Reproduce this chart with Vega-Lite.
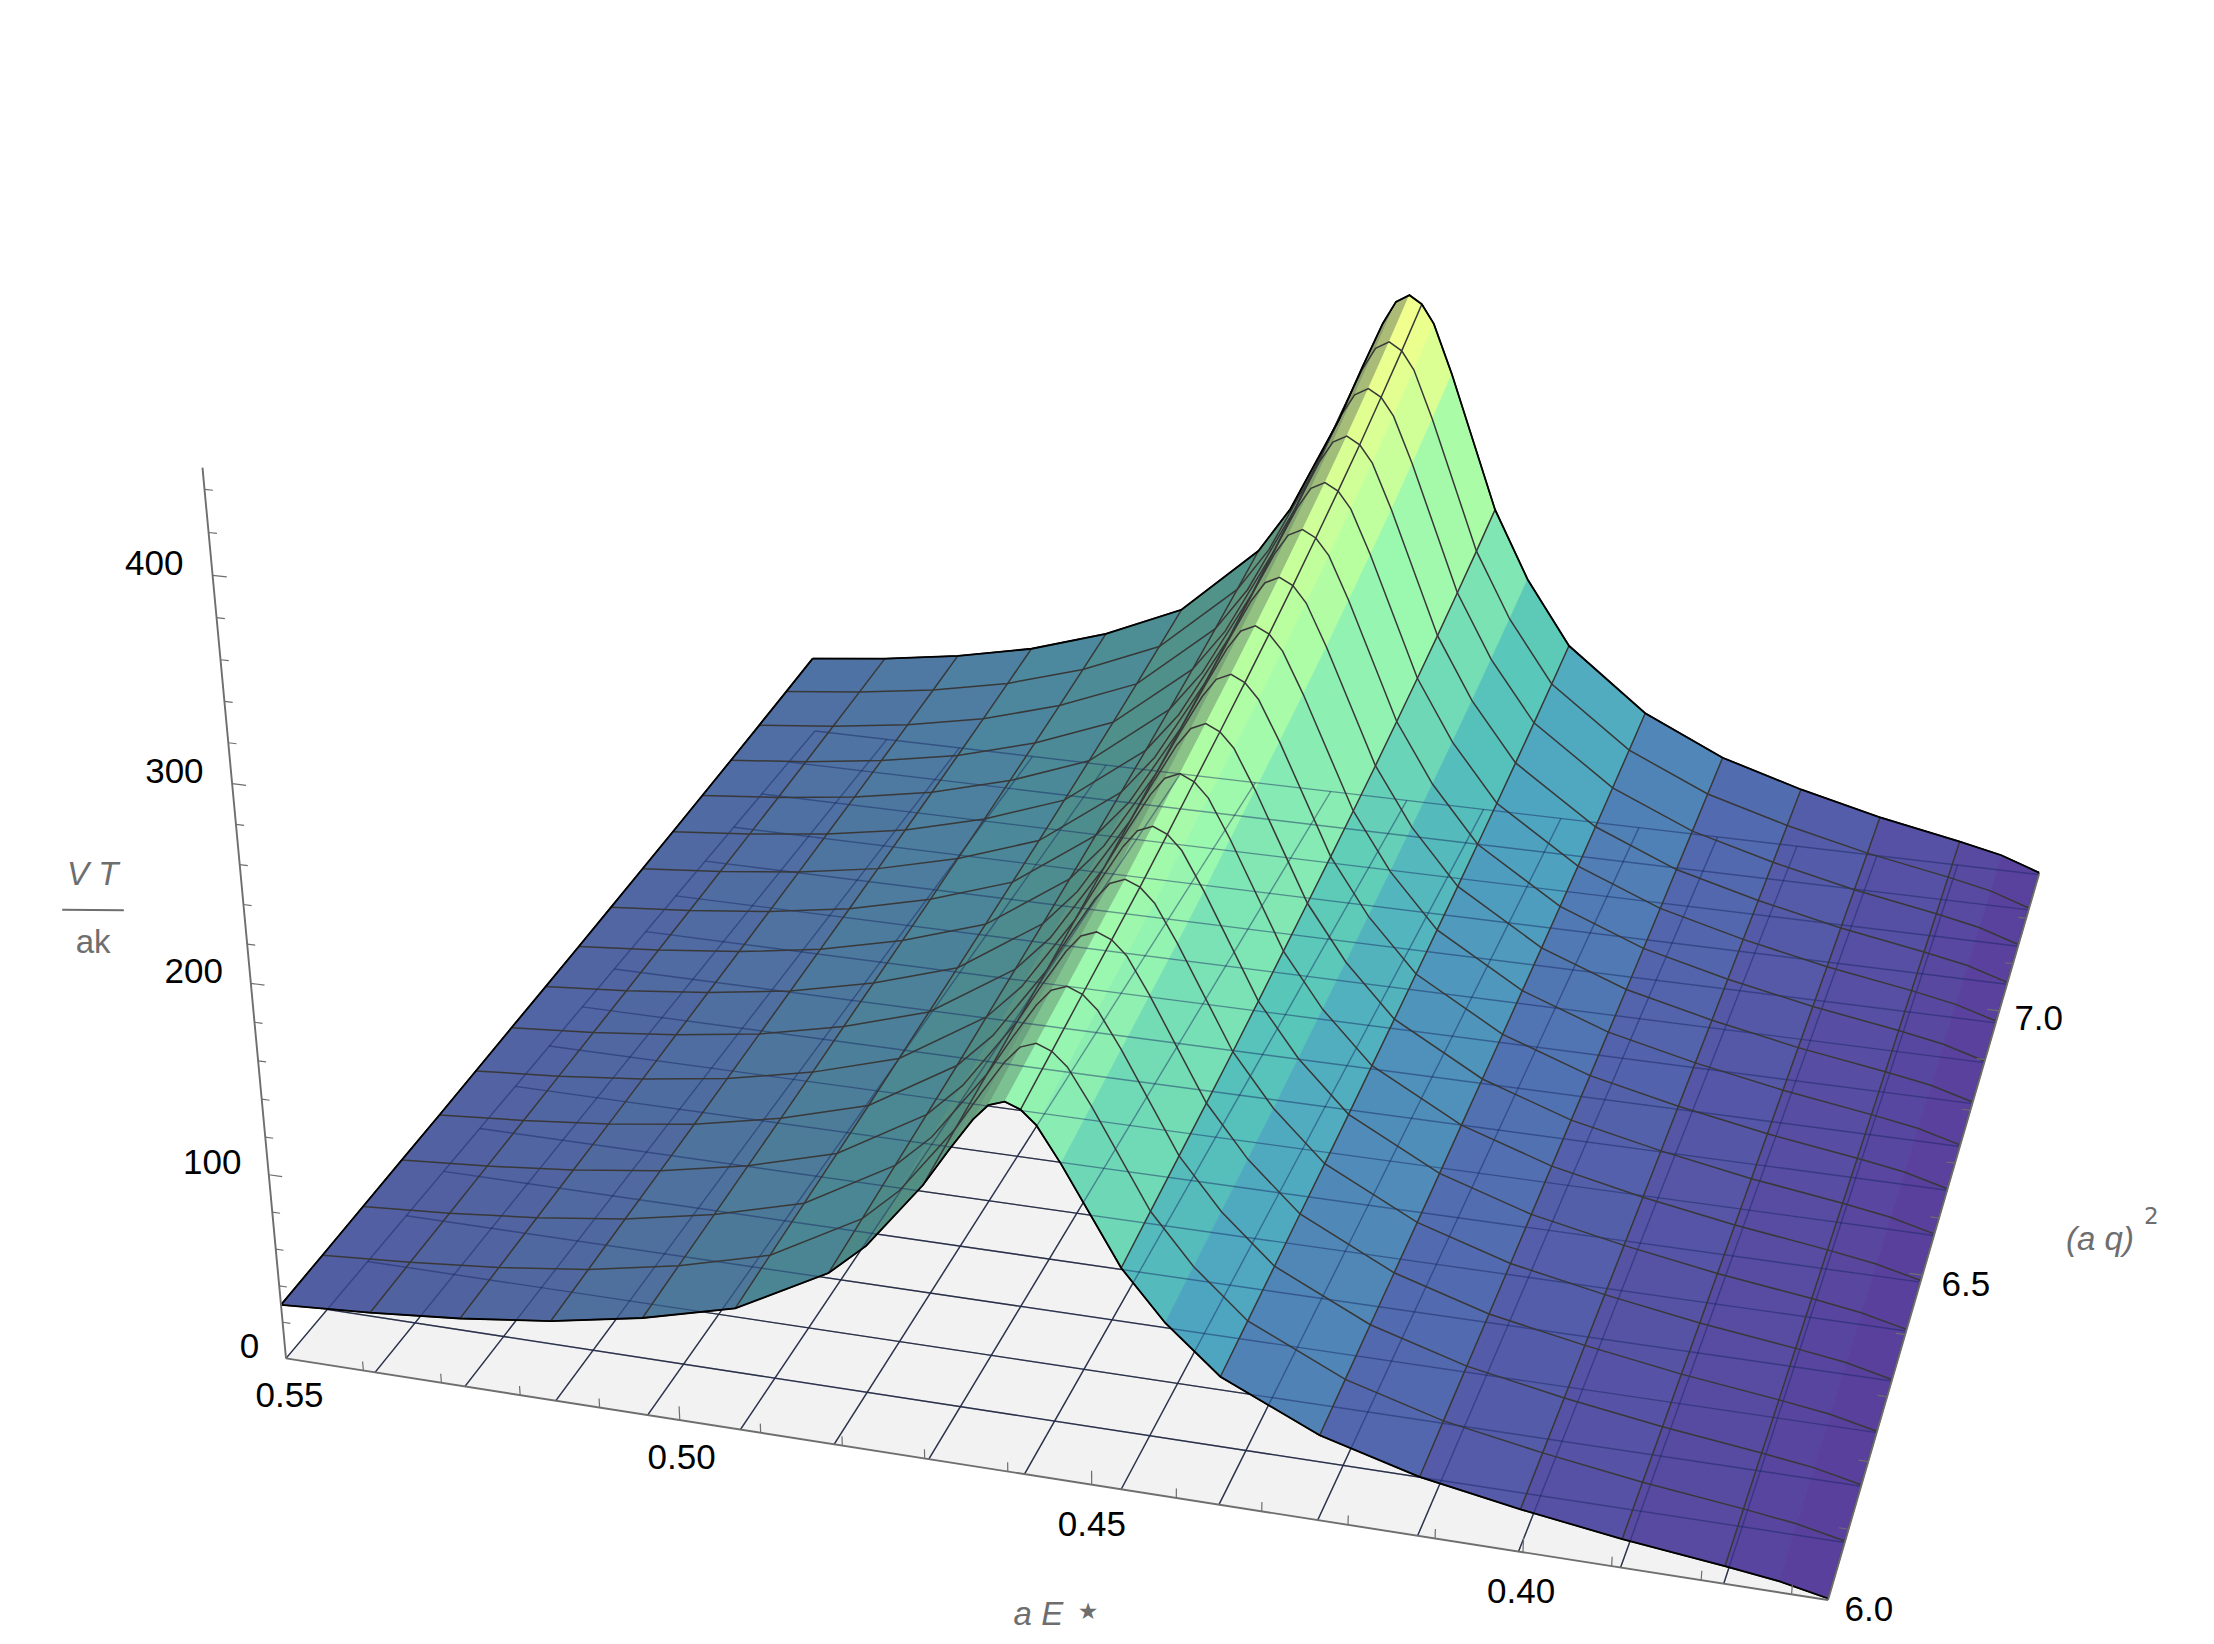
{"$schema":"https://vega.github.io/schema/vega-lite/v6.json","width":2214,"height":1644,"padding":0,"autosize":{"type":"fit","contains":"padding"},"background":"white","view":{"stroke":null},
"datasets":{
"surface":[
{"q":7.3,"E":0.55,"V":47.5},{"q":7.3,"E":0.5385,"V":52.8},{"q":7.3,"E":0.527,"V":59.9},{"q":7.3,"E":0.5155,"V":69.8},{"q":7.3,"E":0.504,"V":84.6},{"q":7.3,"E":0.4925,"V":105},{"q":7.3,"E":0.481,"V":146.9},{"q":7.3,"E":0.4764,"V":174.4},{"q":7.3,"E":0.4695,"V":231.5},{"q":7.3,"E":0.4663,"V":263.9},{"q":7.3,"E":0.4635,"V":290.8},{"q":7.3,"E":0.4617,"V":304.1},{"q":7.3,"E":0.4598,"V":308.7},{"q":7.3,"E":0.458,"V":304.1},{"q":7.3,"E":0.4562,"V":293.3},{"q":7.3,"E":0.4534,"V":264.9},{"q":7.3,"E":0.4465,"V":186.8},{"q":7.3,"E":0.4414,"V":146.6},{"q":7.3,"E":0.435,"V":108.7},{"q":7.3,"E":0.4235,"V":72.2},{"q":7.3,"E":0.412,"V":50},{"q":7.3,"E":0.4005,"V":35.8},{"q":7.3,"E":0.389,"V":24.1},{"q":7.3,"E":0.3775,"V":14.8},{"q":7.3,"E":0.3715,"V":9.3},{"q":7.3,"E":0.366,"V":1.2},
{"q":7.219,"E":0.55,"V":45.8},{"q":7.219,"E":0.5385,"V":50.9},{"q":7.219,"E":0.527,"V":57.7},{"q":7.219,"E":0.5155,"V":67.3},{"q":7.219,"E":0.504,"V":81.5},{"q":7.219,"E":0.4925,"V":101.2},{"q":7.219,"E":0.481,"V":141.7},{"q":7.219,"E":0.4764,"V":168.1},{"q":7.219,"E":0.4695,"V":223.2},{"q":7.219,"E":0.4663,"V":254.4},{"q":7.219,"E":0.4635,"V":280.3},{"q":7.219,"E":0.4617,"V":293.1},{"q":7.219,"E":0.4598,"V":297.6},{"q":7.219,"E":0.458,"V":293.1},{"q":7.219,"E":0.4562,"V":282.7},{"q":7.219,"E":0.4534,"V":255.3},{"q":7.219,"E":0.4465,"V":180},{"q":7.219,"E":0.4414,"V":141.4},{"q":7.219,"E":0.435,"V":104.8},{"q":7.219,"E":0.4235,"V":69.6},{"q":7.219,"E":0.412,"V":48.2},{"q":7.219,"E":0.4005,"V":34.5},{"q":7.219,"E":0.389,"V":23.2},{"q":7.219,"E":0.3775,"V":14.3},{"q":7.219,"E":0.3715,"V":8.9},{"q":7.219,"E":0.366,"V":1.2},
{"q":7.138,"E":0.55,"V":44.2},{"q":7.138,"E":0.5385,"V":49.1},{"q":7.138,"E":0.527,"V":55.7},{"q":7.138,"E":0.5155,"V":64.9},{"q":7.138,"E":0.504,"V":78.7},{"q":7.138,"E":0.4925,"V":97.6},{"q":7.138,"E":0.481,"V":136.7},{"q":7.138,"E":0.4764,"V":162.3},{"q":7.138,"E":0.4695,"V":215.4},{"q":7.138,"E":0.4663,"V":245.6},{"q":7.138,"E":0.4635,"V":270.5},{"q":7.138,"E":0.4617,"V":282.9},{"q":7.138,"E":0.4598,"V":287.2},{"q":7.138,"E":0.458,"V":282.9},{"q":7.138,"E":0.4562,"V":272.8},{"q":7.138,"E":0.4534,"V":246.4},{"q":7.138,"E":0.4465,"V":173.8},{"q":7.138,"E":0.4414,"V":136.4},{"q":7.138,"E":0.435,"V":101.1},{"q":7.138,"E":0.4235,"V":67.2},{"q":7.138,"E":0.412,"V":46.5},{"q":7.138,"E":0.4005,"V":33.3},{"q":7.138,"E":0.389,"V":22.4},{"q":7.138,"E":0.3775,"V":13.8},{"q":7.138,"E":0.3715,"V":8.6},{"q":7.138,"E":0.366,"V":1.1},
{"q":7.056,"E":0.55,"V":42.7},{"q":7.056,"E":0.5385,"V":47.4},{"q":7.056,"E":0.527,"V":53.8},{"q":7.056,"E":0.5155,"V":62.6},{"q":7.056,"E":0.504,"V":76},{"q":7.056,"E":0.4925,"V":94.2},{"q":7.056,"E":0.481,"V":131.9},{"q":7.056,"E":0.4764,"V":156.6},{"q":7.056,"E":0.4695,"V":207.9},{"q":7.056,"E":0.4663,"V":237},{"q":7.056,"E":0.4635,"V":261.1},{"q":7.056,"E":0.4617,"V":273},{"q":7.056,"E":0.4598,"V":277.2},{"q":7.056,"E":0.458,"V":273},{"q":7.056,"E":0.4562,"V":263.3},{"q":7.056,"E":0.4534,"V":237.8},{"q":7.056,"E":0.4465,"V":167.7},{"q":7.056,"E":0.4414,"V":131.7},{"q":7.056,"E":0.435,"V":97.6},{"q":7.056,"E":0.4235,"V":64.9},{"q":7.056,"E":0.412,"V":44.9},{"q":7.056,"E":0.4005,"V":32.2},{"q":7.056,"E":0.389,"V":21.6},{"q":7.056,"E":0.3775,"V":13.3},{"q":7.056,"E":0.3715,"V":8.3},{"q":7.056,"E":0.366,"V":1.1},
{"q":6.975,"E":0.55,"V":41.3},{"q":6.975,"E":0.5385,"V":45.9},{"q":6.975,"E":0.527,"V":52},{"q":6.975,"E":0.5155,"V":60.6},{"q":6.975,"E":0.504,"V":73.5},{"q":6.975,"E":0.4925,"V":91.2},{"q":6.975,"E":0.481,"V":127.7},{"q":6.975,"E":0.4764,"V":151.6},{"q":6.975,"E":0.4695,"V":201.2},{"q":6.975,"E":0.4663,"V":229.4},{"q":6.975,"E":0.4635,"V":252.7},{"q":6.975,"E":0.4617,"V":264.3},{"q":6.975,"E":0.4598,"V":268.3},{"q":6.975,"E":0.458,"V":264.3},{"q":6.975,"E":0.4562,"V":254.9},{"q":6.975,"E":0.4534,"V":230.2},{"q":6.975,"E":0.4465,"V":162.3},{"q":6.975,"E":0.4414,"V":127.4},{"q":6.975,"E":0.435,"V":94.4},{"q":6.975,"E":0.4235,"V":62.8},{"q":6.975,"E":0.412,"V":43.5},{"q":6.975,"E":0.4005,"V":31.1},{"q":6.975,"E":0.389,"V":20.9},{"q":6.975,"E":0.3775,"V":12.9},{"q":6.975,"E":0.3715,"V":8},{"q":6.975,"E":0.366,"V":1.1},
{"q":6.894,"E":0.55,"V":40},{"q":6.894,"E":0.5385,"V":44.4},{"q":6.894,"E":0.527,"V":50.4},{"q":6.894,"E":0.5155,"V":58.7},{"q":6.894,"E":0.504,"V":71.2},{"q":6.894,"E":0.4925,"V":88.4},{"q":6.894,"E":0.481,"V":123.7},{"q":6.894,"E":0.4764,"V":146.8},{"q":6.894,"E":0.4695,"V":194.9},{"q":6.894,"E":0.4663,"V":222.2},{"q":6.894,"E":0.4635,"V":244.8},{"q":6.894,"E":0.4617,"V":256},{"q":6.894,"E":0.4598,"V":259.9},{"q":6.894,"E":0.458,"V":256},{"q":6.894,"E":0.4562,"V":246.9},{"q":6.894,"E":0.4534,"V":223},{"q":6.894,"E":0.4465,"V":157.2},{"q":6.894,"E":0.4414,"V":123.5},{"q":6.894,"E":0.435,"V":91.5},{"q":6.894,"E":0.4235,"V":60.8},{"q":6.894,"E":0.412,"V":42.1},{"q":6.894,"E":0.4005,"V":30.1},{"q":6.894,"E":0.389,"V":20.3},{"q":6.894,"E":0.3775,"V":12.5},{"q":6.894,"E":0.3715,"V":7.8},{"q":6.894,"E":0.366,"V":1},
{"q":6.813,"E":0.55,"V":38.8},{"q":6.813,"E":0.5385,"V":43.1},{"q":6.813,"E":0.527,"V":48.8},{"q":6.813,"E":0.5155,"V":56.9},{"q":6.813,"E":0.504,"V":69},{"q":6.813,"E":0.4925,"V":85.6},{"q":6.813,"E":0.481,"V":119.9},{"q":6.813,"E":0.4764,"V":142.3},{"q":6.813,"E":0.4695,"V":188.9},{"q":6.813,"E":0.4663,"V":215.3},{"q":6.813,"E":0.4635,"V":237.2},{"q":6.813,"E":0.4617,"V":248},{"q":6.813,"E":0.4598,"V":251.8},{"q":6.813,"E":0.458,"V":248},{"q":6.813,"E":0.4562,"V":239.2},{"q":6.813,"E":0.4534,"V":216},{"q":6.813,"E":0.4465,"V":152.3},{"q":6.813,"E":0.4414,"V":119.6},{"q":6.813,"E":0.435,"V":88.6},{"q":6.813,"E":0.4235,"V":58.9},{"q":6.813,"E":0.412,"V":40.8},{"q":6.813,"E":0.4005,"V":29.2},{"q":6.813,"E":0.389,"V":19.6},{"q":6.813,"E":0.3775,"V":12.1},{"q":6.813,"E":0.3715,"V":7.6},{"q":6.813,"E":0.366,"V":1},
{"q":6.731,"E":0.55,"V":37.6},{"q":6.731,"E":0.5385,"V":41.8},{"q":6.731,"E":0.527,"V":47.4},{"q":6.731,"E":0.5155,"V":55.2},{"q":6.731,"E":0.504,"V":66.9},{"q":6.731,"E":0.4925,"V":83.1},{"q":6.731,"E":0.481,"V":116.3},{"q":6.731,"E":0.4764,"V":138},{"q":6.731,"E":0.4695,"V":183.2},{"q":6.731,"E":0.4663,"V":208.9},{"q":6.731,"E":0.4635,"V":230.1},{"q":6.731,"E":0.4617,"V":240.6},{"q":6.731,"E":0.4598,"V":244.3},{"q":6.731,"E":0.458,"V":240.6},{"q":6.731,"E":0.4562,"V":232.1},{"q":6.731,"E":0.4534,"V":209.6},{"q":6.731,"E":0.4465,"V":147.8},{"q":6.731,"E":0.4414,"V":116},{"q":6.731,"E":0.435,"V":86},{"q":6.731,"E":0.4235,"V":57.2},{"q":6.731,"E":0.412,"V":39.6},{"q":6.731,"E":0.4005,"V":28.3},{"q":6.731,"E":0.389,"V":19.1},{"q":6.731,"E":0.3775,"V":11.7},{"q":6.731,"E":0.3715,"V":7.3},{"q":6.731,"E":0.366,"V":1},
{"q":6.65,"E":0.55,"V":36.5},{"q":6.65,"E":0.5385,"V":40.6},{"q":6.65,"E":0.527,"V":46},{"q":6.65,"E":0.5155,"V":53.6},{"q":6.65,"E":0.504,"V":65},{"q":6.65,"E":0.4925,"V":80.7},{"q":6.65,"E":0.481,"V":113},{"q":6.65,"E":0.4764,"V":134.1},{"q":6.65,"E":0.4695,"V":178},{"q":6.65,"E":0.4663,"V":202.9},{"q":6.65,"E":0.4635,"V":223.5},{"q":6.65,"E":0.4617,"V":233.7},{"q":6.65,"E":0.4598,"V":237.3},{"q":6.65,"E":0.458,"V":233.7},{"q":6.65,"E":0.4562,"V":225.4},{"q":6.65,"E":0.4534,"V":203.6},{"q":6.65,"E":0.4465,"V":143.6},{"q":6.65,"E":0.4414,"V":112.7},{"q":6.65,"E":0.435,"V":83.5},{"q":6.65,"E":0.4235,"V":55.5},{"q":6.65,"E":0.412,"V":38.4},{"q":6.65,"E":0.4005,"V":27.5},{"q":6.65,"E":0.389,"V":18.5},{"q":6.65,"E":0.3775,"V":11.4},{"q":6.65,"E":0.3715,"V":7.1},{"q":6.65,"E":0.366,"V":0.9},
{"q":6.569,"E":0.55,"V":35.5},{"q":6.569,"E":0.5385,"V":39.4},{"q":6.569,"E":0.527,"V":44.8},{"q":6.569,"E":0.5155,"V":52.1},{"q":6.569,"E":0.504,"V":63.2},{"q":6.569,"E":0.4925,"V":78.4},{"q":6.569,"E":0.481,"V":109.8},{"q":6.569,"E":0.4764,"V":130.3},{"q":6.569,"E":0.4695,"V":173},{"q":6.569,"E":0.4663,"V":197.2},{"q":6.569,"E":0.4635,"V":217.3},{"q":6.569,"E":0.4617,"V":227.2},{"q":6.569,"E":0.4598,"V":230.7},{"q":6.569,"E":0.458,"V":227.2},{"q":6.569,"E":0.4562,"V":219.2},{"q":6.569,"E":0.4534,"V":197.9},{"q":6.569,"E":0.4465,"V":139.6},{"q":6.569,"E":0.4414,"V":109.6},{"q":6.569,"E":0.435,"V":81.2},{"q":6.569,"E":0.4235,"V":54},{"q":6.569,"E":0.412,"V":37.4},{"q":6.569,"E":0.4005,"V":26.8},{"q":6.569,"E":0.389,"V":18},{"q":6.569,"E":0.3775,"V":11.1},{"q":6.569,"E":0.3715,"V":6.9},{"q":6.569,"E":0.366,"V":0.9},
{"q":6.488,"E":0.55,"V":34.6},{"q":6.488,"E":0.5385,"V":38.4},{"q":6.488,"E":0.527,"V":43.6},{"q":6.488,"E":0.5155,"V":50.7},{"q":6.488,"E":0.504,"V":61.5},{"q":6.488,"E":0.4925,"V":76.3},{"q":6.488,"E":0.481,"V":106.9},{"q":6.488,"E":0.4764,"V":126.8},{"q":6.488,"E":0.4695,"V":168.4},{"q":6.488,"E":0.4663,"V":191.9},{"q":6.488,"E":0.4635,"V":211.5},{"q":6.488,"E":0.4617,"V":221.1},{"q":6.488,"E":0.4598,"V":224.5},{"q":6.488,"E":0.458,"V":221.1},{"q":6.488,"E":0.4562,"V":213.3},{"q":6.488,"E":0.4534,"V":192.6},{"q":6.488,"E":0.4465,"V":135.8},{"q":6.488,"E":0.4414,"V":106.6},{"q":6.488,"E":0.435,"V":79},{"q":6.488,"E":0.4235,"V":52.5},{"q":6.488,"E":0.412,"V":36.4},{"q":6.488,"E":0.4005,"V":26},{"q":6.488,"E":0.389,"V":17.5},{"q":6.488,"E":0.3775,"V":10.8},{"q":6.488,"E":0.3715,"V":6.7},{"q":6.488,"E":0.366,"V":0.9},
{"q":6.406,"E":0.55,"V":33.6},{"q":6.406,"E":0.5385,"V":37.3},{"q":6.406,"E":0.527,"V":42.3},{"q":6.406,"E":0.5155,"V":49.3},{"q":6.406,"E":0.504,"V":59.7},{"q":6.406,"E":0.4925,"V":74.1},{"q":6.406,"E":0.481,"V":103.8},{"q":6.406,"E":0.4764,"V":123.2},{"q":6.406,"E":0.4695,"V":163.5},{"q":6.406,"E":0.4663,"V":186.4},{"q":6.406,"E":0.4635,"V":205.4},{"q":6.406,"E":0.4617,"V":214.7},{"q":6.406,"E":0.4598,"V":218},{"q":6.406,"E":0.458,"V":214.7},{"q":6.406,"E":0.4562,"V":207.1},{"q":6.406,"E":0.4534,"V":187},{"q":6.406,"E":0.4465,"V":131.9},{"q":6.406,"E":0.4414,"V":103.6},{"q":6.406,"E":0.435,"V":76.7},{"q":6.406,"E":0.4235,"V":51},{"q":6.406,"E":0.412,"V":35.3},{"q":6.406,"E":0.4005,"V":25.3},{"q":6.406,"E":0.389,"V":17},{"q":6.406,"E":0.3775,"V":10.5},{"q":6.406,"E":0.3715,"V":6.5},{"q":6.406,"E":0.366,"V":0.9},
{"q":6.325,"E":0.55,"V":32.6},{"q":6.325,"E":0.5385,"V":36.3},{"q":6.325,"E":0.527,"V":41.1},{"q":6.325,"E":0.5155,"V":47.9},{"q":6.325,"E":0.504,"V":58.1},{"q":6.325,"E":0.4925,"V":72.1},{"q":6.325,"E":0.481,"V":100.9},{"q":6.325,"E":0.4764,"V":119.8},{"q":6.325,"E":0.4695,"V":159},{"q":6.325,"E":0.4663,"V":181.3},{"q":6.325,"E":0.4635,"V":199.7},{"q":6.325,"E":0.4617,"V":208.8},{"q":6.325,"E":0.4598,"V":212},{"q":6.325,"E":0.458,"V":208.8},{"q":6.325,"E":0.4562,"V":201.4},{"q":6.325,"E":0.4534,"V":181.9},{"q":6.325,"E":0.4465,"V":128.3},{"q":6.325,"E":0.4414,"V":100.7},{"q":6.325,"E":0.435,"V":74.6},{"q":6.325,"E":0.4235,"V":49.6},{"q":6.325,"E":0.412,"V":34.3},{"q":6.325,"E":0.4005,"V":24.6},{"q":6.325,"E":0.389,"V":16.5},{"q":6.325,"E":0.3775,"V":10.2},{"q":6.325,"E":0.3715,"V":6.4},{"q":6.325,"E":0.366,"V":0.8},
{"q":6.244,"E":0.55,"V":31.9},{"q":6.244,"E":0.5385,"V":35.4},{"q":6.244,"E":0.527,"V":40.2},{"q":6.244,"E":0.5155,"V":46.8},{"q":6.244,"E":0.504,"V":56.7},{"q":6.244,"E":0.4925,"V":70.4},{"q":6.244,"E":0.481,"V":98.5},{"q":6.244,"E":0.4764,"V":117},{"q":6.244,"E":0.4695,"V":155.3},{"q":6.244,"E":0.4663,"V":177},{"q":6.244,"E":0.4635,"V":195},{"q":6.244,"E":0.4617,"V":203.9},{"q":6.244,"E":0.4598,"V":207},{"q":6.244,"E":0.458,"V":203.9},{"q":6.244,"E":0.4562,"V":196.7},{"q":6.244,"E":0.4534,"V":177.6},{"q":6.244,"E":0.4465,"V":125.2},{"q":6.244,"E":0.4414,"V":98.3},{"q":6.244,"E":0.435,"V":72.9},{"q":6.244,"E":0.4235,"V":48.4},{"q":6.244,"E":0.412,"V":33.5},{"q":6.244,"E":0.4005,"V":24},{"q":6.244,"E":0.389,"V":16.1},{"q":6.244,"E":0.3775,"V":9.9},{"q":6.244,"E":0.3715,"V":6.2},{"q":6.244,"E":0.366,"V":0.8},
{"q":6.163,"E":0.55,"V":31.1},{"q":6.163,"E":0.5385,"V":34.5},{"q":6.163,"E":0.527,"V":39.2},{"q":6.163,"E":0.5155,"V":45.7},{"q":6.163,"E":0.504,"V":55.3},{"q":6.163,"E":0.4925,"V":68.7},{"q":6.163,"E":0.481,"V":96.2},{"q":6.163,"E":0.4764,"V":114.1},{"q":6.163,"E":0.4695,"V":151.5},{"q":6.163,"E":0.4663,"V":172.7},{"q":6.163,"E":0.4635,"V":190.3},{"q":6.163,"E":0.4617,"V":199},{"q":6.163,"E":0.4598,"V":202},{"q":6.163,"E":0.458,"V":199},{"q":6.163,"E":0.4562,"V":191.9},{"q":6.163,"E":0.4534,"V":173.3},{"q":6.163,"E":0.4465,"V":122.2},{"q":6.163,"E":0.4414,"V":96},{"q":6.163,"E":0.435,"V":71.1},{"q":6.163,"E":0.4235,"V":47.3},{"q":6.163,"E":0.412,"V":32.7},{"q":6.163,"E":0.4005,"V":23.4},{"q":6.163,"E":0.389,"V":15.8},{"q":6.163,"E":0.3775,"V":9.7},{"q":6.163,"E":0.3715,"V":6.1},{"q":6.163,"E":0.366,"V":0.8},
{"q":6.081,"E":0.55,"V":30.3},{"q":6.081,"E":0.5385,"V":33.7},{"q":6.081,"E":0.527,"V":38.2},{"q":6.081,"E":0.5155,"V":44.5},{"q":6.081,"E":0.504,"V":54},{"q":6.081,"E":0.4925,"V":67},{"q":6.081,"E":0.481,"V":93.8},{"q":6.081,"E":0.4764,"V":111.3},{"q":6.081,"E":0.4695,"V":147.8},{"q":6.081,"E":0.4663,"V":168.4},{"q":6.081,"E":0.4635,"V":185.6},{"q":6.081,"E":0.4617,"V":194},{"q":6.081,"E":0.4598,"V":197},{"q":6.081,"E":0.458,"V":194},{"q":6.081,"E":0.4562,"V":187.2},{"q":6.081,"E":0.4534,"V":169},{"q":6.081,"E":0.4465,"V":119.2},{"q":6.081,"E":0.4414,"V":93.6},{"q":6.081,"E":0.435,"V":69.3},{"q":6.081,"E":0.4235,"V":46.1},{"q":6.081,"E":0.412,"V":31.9},{"q":6.081,"E":0.4005,"V":22.9},{"q":6.081,"E":0.389,"V":15.4},{"q":6.081,"E":0.3775,"V":9.5},{"q":6.081,"E":0.3715,"V":5.9},{"q":6.081,"E":0.366,"V":0.8},
{"q":6,"E":0.55,"V":29.6},{"q":6,"E":0.5385,"V":32.8},{"q":6,"E":0.527,"V":37.2},{"q":6,"E":0.5155,"V":43.4},{"q":6,"E":0.504,"V":52.6},{"q":6,"E":0.4925,"V":65.3},{"q":6,"E":0.481,"V":91.4},{"q":6,"E":0.4764,"V":108.5},{"q":6,"E":0.4695,"V":144},{"q":6,"E":0.4663,"V":164.2},{"q":6,"E":0.4635,"V":180.9},{"q":6,"E":0.4617,"V":189.1},{"q":6,"E":0.4598,"V":192},{"q":6,"E":0.458,"V":189.1},{"q":6,"E":0.4562,"V":182.4},{"q":6,"E":0.4534,"V":164.7},{"q":6,"E":0.4465,"V":116.2},{"q":6,"E":0.4414,"V":91.2},{"q":6,"E":0.435,"V":67.6},{"q":6,"E":0.4235,"V":44.9},{"q":6,"E":0.412,"V":31.1},{"q":6,"E":0.4005,"V":22.3},{"q":6,"E":0.389,"V":15},{"q":6,"E":0.3775,"V":9.2},{"q":6,"E":0.3715,"V":5.8},{"q":6,"E":0.366,"V":0.8}
],
"floor":[{"E":0.55,"q":6,"V":0,"o":0},{"E":0.366,"q":6,"V":0,"o":1},{"E":0.366,"q":7.3,"V":0,"o":2},{"E":0.55,"q":7.3,"V":0,"o":3}],
"floorlines":[{"kind":"E","t":0.55},{"kind":"E","t":0.5385},{"kind":"E","t":0.527},{"kind":"E","t":0.5155},{"kind":"E","t":0.504},{"kind":"E","t":0.4925},{"kind":"E","t":0.481},{"kind":"E","t":0.4695},{"kind":"E","t":0.458},{"kind":"E","t":0.4465},{"kind":"E","t":0.435},{"kind":"E","t":0.4235},{"kind":"E","t":0.412},{"kind":"E","t":0.4005},{"kind":"E","t":0.389},{"kind":"E","t":0.3775},{"kind":"q","t":6.081},{"kind":"q","t":6.163},{"kind":"q","t":6.244},{"kind":"q","t":6.325},{"kind":"q","t":6.406},{"kind":"q","t":6.488},{"kind":"q","t":6.569},{"kind":"q","t":6.65},{"kind":"q","t":6.731},{"kind":"q","t":6.813},{"kind":"q","t":6.894},{"kind":"q","t":6.975},{"kind":"q","t":7.056},{"kind":"q","t":7.138},{"kind":"q","t":7.219},{"kind":"q","t":7.3}],
"ticks":[{"axis":"E","t":0.54},{"axis":"E","t":0.53},{"axis":"E","t":0.52},{"axis":"E","t":0.51},{"axis":"E","t":0.5},{"axis":"E","t":0.49},{"axis":"E","t":0.48},{"axis":"E","t":0.47},{"axis":"E","t":0.46},{"axis":"E","t":0.45},{"axis":"E","t":0.44},{"axis":"E","t":0.43},{"axis":"E","t":0.42},{"axis":"E","t":0.41},{"axis":"E","t":0.4},{"axis":"E","t":0.39},{"axis":"E","t":0.38},{"axis":"E","t":0.37},{"axis":"q","t":6.1},{"axis":"q","t":6.2},{"axis":"q","t":6.3},{"axis":"q","t":6.4},{"axis":"q","t":6.5},{"axis":"q","t":6.6},{"axis":"q","t":6.7},{"axis":"q","t":6.8},{"axis":"q","t":6.9},{"axis":"q","t":7},{"axis":"q","t":7.1},{"axis":"q","t":7.2},{"axis":"V","t":20},{"axis":"V","t":40},{"axis":"V","t":60},{"axis":"V","t":80},{"axis":"V","t":100},{"axis":"V","t":120},{"axis":"V","t":140},{"axis":"V","t":160},{"axis":"V","t":180},{"axis":"V","t":200},{"axis":"V","t":220},{"axis":"V","t":240},{"axis":"V","t":260},{"axis":"V","t":280},{"axis":"V","t":300},{"axis":"V","t":320},{"axis":"V","t":340},{"axis":"V","t":360},{"axis":"V","t":380},{"axis":"V","t":400},{"axis":"V","t":420},{"axis":"V","t":440}],
"axes":[{"a":"E","E":0.55,"q":6,"V":0,"o":0},{"a":"E","E":0.366,"q":6,"V":0,"o":1},{"a":"q","E":0.366,"q":6,"V":0,"o":0},{"a":"q","E":0.366,"q":7.3,"V":0,"o":1},{"a":"V","E":0.55,"q":6,"V":0,"o":0},{"a":"V","E":0.55,"q":6,"V":450,"o":1},{"a":"bar","E":0.5731,"q":6,"V":225,"o":0},{"a":"bar","E":0.5652,"q":6,"V":229,"o":1}],
"ticklabels":[{"t":"0.55","E":0.55,"q":6,"V":-21},{"t":"0.50","E":0.5,"q":6,"V":-21},{"t":"0.45","E":0.45,"q":6,"V":-22},{"t":"0.40","E":0.4,"q":6,"V":-21},{"t":"6.0","E":0.3615,"q":6,"V":-2},{"t":"6.5","E":0.3607,"q":6.5,"V":-2},{"t":"7.0","E":0.3607,"q":7,"V":-2}],
"vlabels":[{"t":"0","E":0.5534,"q":6,"V":4},{"t":"100","E":0.5534,"q":6,"V":104},{"t":"200","E":0.5534,"q":6,"V":204},{"t":"300","E":0.5534,"q":6,"V":304},{"t":"400","E":0.5534,"q":6,"V":404}],
"titles":[{"t":"V T","E":0.5687,"q":6,"V":245},{"t":"a E","E":0.4565,"q":6,"V":-76},{"t":"(a q)","E":0.3462,"q":6.6,"V":0}],
"titles2":[{"t":"ak","E":0.5696,"q":6,"V":210}],
"marks2":[{"t":"★","E":0.4505,"q":6,"V":-70},{"t":"2","E":0.3405,"q":6.62,"V":10}]
},
"encoding":{"x":{"field":"px","type":"quantitative","scale":{"domain":[0,2214],"nice":false,"zero":false},"axis":null},"y":{"field":"py","type":"quantitative","scale":{"domain":[1644,0],"nice":false,"zero":false},"axis":null}},
"layer":[
{"data":{"name":"floor"},"transform":[{"calculate":"(0.55-datum.E)/0.184","as":"u"},{"calculate":"(datum.q-6)/1.3","as":"w"},{"calculate":"-0.0809*datum.u+0.2738*datum.w+1-0.000202*datum.V","as":"W"},{"calculate":"(1394.1*datum.u+752.1*datum.w+286-0.2265*datum.V)/datum.W","as":"px"},{"calculate":"(112.2*datum.u-427.3*datum.w+1358.4-2.074*datum.V)/datum.W","as":"py"}],"mark":{"type":"line","fill":"#f2f2f2","stroke":null},"encoding":{"order":{"field":"o"}}},
{"data":{"name":"floorlines"},"transform":[{"calculate":"[0,1]","as":"p"},{"flatten":["p"]},{"calculate":"datum.kind=='E'?datum.t:0.55-0.184*datum.p","as":"E"},{"calculate":"datum.kind=='E'?6+1.3*datum.p:datum.t","as":"q"},{"calculate":"0","as":"V"},{"calculate":"datum.kind+datum.t","as":"id"},{"calculate":"(0.55-datum.E)/0.184","as":"u"},{"calculate":"(datum.q-6)/1.3","as":"w"},{"calculate":"-0.0809*datum.u+0.2738*datum.w+1-0.000202*datum.V","as":"W"},{"calculate":"(1394.1*datum.u+752.1*datum.w+286-0.2265*datum.V)/datum.W","as":"px"},{"calculate":"(112.2*datum.u-427.3*datum.w+1358.4-2.074*datum.V)/datum.W","as":"py"}],"mark":{"type":"line","stroke":"#3c3c3c","strokeWidth":1.3},"encoding":{"detail":{"field":"id"},"order":{"field":"p"}}},
{"data":{"name":"surface"},"transform":[
{"window":[{"op":"row_number","as":"j"},{"op":"lag","field":"V","param":1,"as":"Vp"},{"op":"lead","field":"V","param":1,"as":"Vn"},{"op":"lag","field":"E","param":1,"as":"Ep"},{"op":"lead","field":"E","param":1,"as":"En"}],"groupby":["q"],"sort":[{"field":"E","order":"descending"}]},
{"calculate":"round((datum.q-6)/0.08125)","as":"i"},
{"calculate":"max(0,((isValid(datum.Vn)?datum.Vn:datum.V)-(isValid(datum.Vp)?datum.Vp:datum.V))/(((isValid(datum.Ep)?datum.Ep:datum.E)-(isValid(datum.En)?datum.En:datum.E))/0.184))","as":"sl"},
{"calculate":"(0.55-datum.E)/0.184","as":"u"},{"calculate":"(datum.q-6)/1.3","as":"w"},{"calculate":"-0.0809*datum.u+0.2738*datum.w+1-0.000202*datum.V","as":"W"},{"calculate":"(1394.1*datum.u+752.1*datum.w+286-0.2265*datum.V)/datum.W","as":"px"},{"calculate":"(112.2*datum.u-427.3*datum.w+1358.4-2.074*datum.V)/datum.W","as":"py"},
{"calculate":"[0,1,2,3]","as":"k"},{"flatten":["k"]},
{"calculate":"datum.i-((datum.k==1||datum.k==2)?1:0)","as":"ci"},
{"calculate":"datum.j-(datum.k>=2?1:0)","as":"cj"},
{"filter":"datum.ci>=0&&datum.ci<16&&datum.cj>=1&&datum.cj<26"},
{"calculate":"datum.ci*100+datum.cj","as":"cell"},
{"joinaggregate":[{"op":"mean","field":"V","as":"Vm"},{"op":"mean","field":"sl","as":"Sm"}],"groupby":["cell"]},
{"calculate":"min(datum.Vm/40,7.999)","as":"t"},{"calculate":"floor(datum.t)","as":"n"},{"calculate":"datum.t-datum.n","as":"f"},
{"calculate":"0.72*datum.Sm/(datum.Sm+350)","as":"a"},
{"calculate":"round((1-datum.a)*([90,82,78,88,125,155,185,225,255][datum.n]*(1-datum.f)+[90,82,78,88,125,155,185,225,255][datum.n+1]*datum.f)+datum.a*70)","as":"r"},
{"calculate":"round((1-datum.a)*([60,105,165,198,228,248,255,255,255][datum.n]*(1-datum.f)+[60,105,165,198,228,248,255,255,255][datum.n+1]*datum.f)+datum.a*85)","as":"g"},
{"calculate":"round((1-datum.a)*([155,175,192,185,180,175,160,145,140][datum.n]*(1-datum.f)+[155,175,192,185,180,175,160,145,140][datum.n+1]*datum.f)+datum.a*80)","as":"b"},
{"calculate":"'rgb('+datum.r+','+datum.g+','+datum.b+')'","as":"col"}
],"mark":{"type":"line","strokeWidth":0.8},"encoding":{"fill":{"field":"col","type":"nominal","scale":null},"stroke":{"field":"col","type":"nominal","scale":null},"detail":{"field":"cell"},"order":{"field":"k"}}},
{"data":{"name":"floorlines"},"transform":[{"calculate":"[0,1]","as":"p"},{"flatten":["p"]},{"calculate":"datum.kind=='E'?datum.t:0.55-0.184*datum.p","as":"E"},{"calculate":"datum.kind=='E'?6+1.3*datum.p:datum.t","as":"q"},{"calculate":"0","as":"V"},{"calculate":"datum.kind+datum.t","as":"id"},{"calculate":"(0.55-datum.E)/0.184","as":"u"},{"calculate":"(datum.q-6)/1.3","as":"w"},{"calculate":"-0.0809*datum.u+0.2738*datum.w+1-0.000202*datum.V","as":"W"},{"calculate":"(1394.1*datum.u+752.1*datum.w+286-0.2265*datum.V)/datum.W","as":"px"},{"calculate":"(112.2*datum.u-427.3*datum.w+1358.4-2.074*datum.V)/datum.W","as":"py"}],"mark":{"type":"line","stroke":"#13245e","strokeWidth":1.4,"opacity":0.45},"encoding":{"detail":{"field":"id"},"order":{"field":"p"}}},
{"data":{"name":"surface"},"transform":[{"calculate":"(0.55-datum.E)/0.184","as":"u"},{"calculate":"(datum.q-6)/1.3","as":"w"},{"calculate":"-0.0809*datum.u+0.2738*datum.w+1-0.000202*datum.V","as":"W"},{"calculate":"(1394.1*datum.u+752.1*datum.w+286-0.2265*datum.V)/datum.W","as":"px"},{"calculate":"(112.2*datum.u-427.3*datum.w+1358.4-2.074*datum.V)/datum.W","as":"py"}],"mark":{"type":"line","stroke":"#383838","strokeWidth":1.5},"encoding":{"detail":{"field":"q"},"order":{"field":"E"}}},
{"data":{"name":"surface"},"transform":[{"calculate":"(0.55-datum.E)/0.184","as":"u"},{"filter":"abs(16*datum.u-round(16*datum.u))<0.012"},{"calculate":"(datum.q-6)/1.3","as":"w"},{"calculate":"-0.0809*datum.u+0.2738*datum.w+1-0.000202*datum.V","as":"W"},{"calculate":"(1394.1*datum.u+752.1*datum.w+286-0.2265*datum.V)/datum.W","as":"px"},{"calculate":"(112.2*datum.u-427.3*datum.w+1358.4-2.074*datum.V)/datum.W","as":"py"}],"mark":{"type":"line","stroke":"#383838","strokeWidth":1.5},"encoding":{"detail":{"field":"E"},"order":{"field":"q"}}},
{"data":{"name":"surface"},"transform":[{"filter":"datum.q==6||datum.q==7.3"},{"calculate":"(0.55-datum.E)/0.184","as":"u"},{"calculate":"(datum.q-6)/1.3","as":"w"},{"calculate":"-0.0809*datum.u+0.2738*datum.w+1-0.000202*datum.V","as":"W"},{"calculate":"(1394.1*datum.u+752.1*datum.w+286-0.2265*datum.V)/datum.W","as":"px"},{"calculate":"(112.2*datum.u-427.3*datum.w+1358.4-2.074*datum.V)/datum.W","as":"py"}],"mark":{"type":"line","stroke":"#000000","strokeWidth":1.8},"encoding":{"detail":{"field":"q"},"order":{"field":"E"}}},
{"data":{"name":"surface"},"transform":[{"filter":"datum.E==0.55"},{"calculate":"(0.55-datum.E)/0.184","as":"u"},{"calculate":"(datum.q-6)/1.3","as":"w"},{"calculate":"-0.0809*datum.u+0.2738*datum.w+1-0.000202*datum.V","as":"W"},{"calculate":"(1394.1*datum.u+752.1*datum.w+286-0.2265*datum.V)/datum.W","as":"px"},{"calculate":"(112.2*datum.u-427.3*datum.w+1358.4-2.074*datum.V)/datum.W","as":"py"}],"mark":{"type":"line","stroke":"#000000","strokeWidth":1.8},"encoding":{"detail":{"field":"E"},"order":{"field":"q"}}},
{"data":{"name":"ticks"},"transform":[{"calculate":"[0,1]","as":"p"},{"flatten":["p"]},
{"calculate":"datum.axis=='E'?(abs(datum.t*20-round(datum.t*20))<0.001?7.5:5):datum.axis=='q'?(abs(datum.t*2-round(datum.t*2))<0.001?0.0016:0.0011):(datum.t%100==0?0.0017:0.001)","as":"len"},
{"calculate":"datum.axis=='E'?datum.t:datum.axis=='q'?0.366+datum.p*datum.len:0.55-datum.p*datum.len","as":"E"},{"calculate":"datum.axis=='q'?datum.t:6","as":"q"},{"calculate":"datum.axis=='E'?datum.p*datum.len:datum.axis=='V'?datum.t:0","as":"V"},{"calculate":"datum.axis+datum.t","as":"id"},
{"calculate":"(0.55-datum.E)/0.184","as":"u"},{"calculate":"(datum.q-6)/1.3","as":"w"},{"calculate":"-0.0809*datum.u+0.2738*datum.w+1-0.000202*datum.V","as":"W"},{"calculate":"(1394.1*datum.u+752.1*datum.w+286-0.2265*datum.V)/datum.W","as":"px"},{"calculate":"(112.2*datum.u-427.3*datum.w+1358.4-2.074*datum.V)/datum.W","as":"py"}],"mark":{"type":"line","stroke":"#6e6e6e","strokeWidth":1.2},"encoding":{"detail":{"field":"id"},"order":{"field":"p"}}},
{"data":{"name":"axes"},"transform":[{"calculate":"(0.55-datum.E)/0.184","as":"u"},{"calculate":"(datum.q-6)/1.3","as":"w"},{"calculate":"-0.0809*datum.u+0.2738*datum.w+1-0.000202*datum.V","as":"W"},{"calculate":"(1394.1*datum.u+752.1*datum.w+286-0.2265*datum.V)/datum.W","as":"px"},{"calculate":"(112.2*datum.u-427.3*datum.w+1358.4-2.074*datum.V)/datum.W","as":"py"}],"mark":{"type":"line","stroke":"#6e6e6e","strokeWidth":1.9},"encoding":{"detail":{"field":"a"},"order":{"field":"o"}}},
{"data":{"name":"ticklabels"},"transform":[{"calculate":"(0.55-datum.E)/0.184","as":"u"},{"calculate":"(datum.q-6)/1.3","as":"w"},{"calculate":"-0.0809*datum.u+0.2738*datum.w+1-0.000202*datum.V","as":"W"},{"calculate":"(1394.1*datum.u+752.1*datum.w+286-0.2265*datum.V)/datum.W","as":"px"},{"calculate":"(112.2*datum.u-427.3*datum.w+1358.4-2.074*datum.V)/datum.W","as":"py"}],"mark":{"type":"text","font":"Liberation Sans","fontSize":35,"color":"#000000","align":"center","baseline":"middle"},"encoding":{"text":{"field":"t"}}},
{"data":{"name":"vlabels"},"transform":[{"calculate":"(0.55-datum.E)/0.184","as":"u"},{"calculate":"(datum.q-6)/1.3","as":"w"},{"calculate":"-0.0809*datum.u+0.2738*datum.w+1-0.000202*datum.V","as":"W"},{"calculate":"(1394.1*datum.u+752.1*datum.w+286-0.2265*datum.V)/datum.W","as":"px"},{"calculate":"(112.2*datum.u-427.3*datum.w+1358.4-2.074*datum.V)/datum.W","as":"py"}],"mark":{"type":"text","font":"Liberation Sans","fontSize":35,"color":"#000000","align":"right","baseline":"middle"},"encoding":{"text":{"field":"t"}}},
{"data":{"name":"titles"},"transform":[{"calculate":"(0.55-datum.E)/0.184","as":"u"},{"calculate":"(datum.q-6)/1.3","as":"w"},{"calculate":"-0.0809*datum.u+0.2738*datum.w+1-0.000202*datum.V","as":"W"},{"calculate":"(1394.1*datum.u+752.1*datum.w+286-0.2265*datum.V)/datum.W","as":"px"},{"calculate":"(112.2*datum.u-427.3*datum.w+1358.4-2.074*datum.V)/datum.W","as":"py"}],"mark":{"type":"text","font":"Liberation Sans","fontSize":33,"fontStyle":"italic","color":"#6e6e6e","align":"center","baseline":"middle"},"encoding":{"text":{"field":"t"}}},
{"data":{"name":"titles2"},"transform":[{"calculate":"(0.55-datum.E)/0.184","as":"u"},{"calculate":"(datum.q-6)/1.3","as":"w"},{"calculate":"-0.0809*datum.u+0.2738*datum.w+1-0.000202*datum.V","as":"W"},{"calculate":"(1394.1*datum.u+752.1*datum.w+286-0.2265*datum.V)/datum.W","as":"px"},{"calculate":"(112.2*datum.u-427.3*datum.w+1358.4-2.074*datum.V)/datum.W","as":"py"}],"mark":{"type":"text","font":"Liberation Sans","fontSize":33,"color":"#6e6e6e","align":"center","baseline":"middle"},"encoding":{"text":{"field":"t"}}},
{"data":{"name":"marks2"},"transform":[{"calculate":"(0.55-datum.E)/0.184","as":"u"},{"calculate":"(datum.q-6)/1.3","as":"w"},{"calculate":"-0.0809*datum.u+0.2738*datum.w+1-0.000202*datum.V","as":"W"},{"calculate":"(1394.1*datum.u+752.1*datum.w+286-0.2265*datum.V)/datum.W","as":"px"},{"calculate":"(112.2*datum.u-427.3*datum.w+1358.4-2.074*datum.V)/datum.W","as":"py"}],"mark":{"type":"text","font":"DejaVu Sans","fontSize":23,"color":"#6e6e6e","align":"center","baseline":"middle"},"encoding":{"text":{"field":"t"}}}
]}
